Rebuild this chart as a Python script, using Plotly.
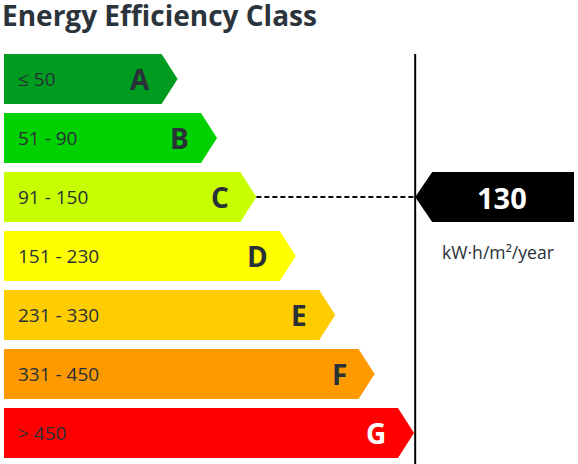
import plotly.graph_objects as go

# energy label data
classes = ["A", "B", "C", "D", "E", "F", "G"]
ranges = ["≤ 50", "51 - 90", "91 - 150", "151 - 230", "231 - 330", "331 - 450", "> 450"]
upper_limits = [50, 90, 150, 230, 330, 450]
colors = ["#009c1f", "#00d100", "#c8ff00", "#ffff00", "#ffcc00", "#ff9900", "#ff0000"]
letter_colors = ["#283038"] * 6 + ["#ffffff"]
value = 130
unit = "kW·h/m²/year"

# layout in axis units (1 unit = one class step)
W, H = 578, 464
step_px = 39.4
row_px = 59
bar_h = 50 / row_px
tip = 16 / step_px
x_range = [-4 / step_px, (W - 4) / step_px]
y_range = [(H - 79) / row_px, -79 / row_px]

text_col = "#283038"
font = "Open Sans"

value_class = sum(value > lim for lim in upper_limits)

fig = go.Figure()

for i, (c, col) in enumerate(zip(classes, colors)):
    length = 4 + i
    xs = [0, length, length + tip, length, 0, 0]
    ys = [i - bar_h / 2, i - bar_h / 2, i, i + bar_h / 2, i + bar_h / 2, i - bar_h / 2]
    fig.add_trace(go.Scatter(x=xs, y=ys, fill="toself", fillcolor=col, mode="lines",
                             line=dict(width=0, color=col), hoverinfo="skip", showlegend=False))
    fig.add_annotation(x=0.3, y=i, text=ranges[i], showarrow=False, xanchor="left",
                       font=dict(family=font, size=19, color=text_col))
    fig.add_annotation(x=length - 0.25, y=i, text="<b>%s</b>" % c, showarrow=False, xanchor="right",
                       font=dict(family=font, size=28, color=letter_colors[i]))

# vertical separator right of the longest arrow
line_x = 4 + len(classes) - 1 + tip + 0.03
fig.add_trace(go.Scatter(x=[line_x, line_x], y=[-bar_h / 2, y_range[0]], mode="lines",
                         line=dict(color="black", width=2), hoverinfo="skip", showlegend=False))

# dashed pointer from the matching class
v_len = 4 + value_class
fig.add_trace(go.Scatter(x=[v_len + tip, line_x], y=[value_class, value_class], mode="lines",
                         line=dict(color="black", width=1.8, dash="5px,3px"),
                         hoverinfo="skip", showlegend=False))

# black value marker
m_tip = 17 / step_px
m_end = x_range[1] - 4 / step_px
mx = [line_x, line_x + m_tip, m_end, m_end, line_x + m_tip, line_x]
my = [value_class, value_class - bar_h / 2, value_class - bar_h / 2,
      value_class + bar_h / 2, value_class + bar_h / 2, value_class]
fig.add_trace(go.Scatter(x=mx, y=my, fill="toself", fillcolor="black", mode="lines",
                         line=dict(width=0, color="black"), hoverinfo="skip", showlegend=False))
mid = (line_x + m_tip + m_end) / 2
fig.add_annotation(x=mid - 0.03, y=value_class, text="<b>%d</b>" % value, showarrow=False,
                   font=dict(family=font, size=29, color="white"))
fig.add_annotation(x=(line_x + m_end) / 2 + 0.08, y=value_class + 0.93, text=unit, showarrow=False,
                   font=dict(family=font, size=17.6, color=text_col))

fig.add_annotation(x=0.0, y=1.013, xref="paper", yref="paper", text="<b>Energy Efficiency Class</b>",
                   showarrow=False, xanchor="left", yanchor="top",
                   font=dict(family=font, size=28, color="#2b333b"))

fig.update_xaxes(range=x_range, visible=False, fixedrange=True)
fig.update_yaxes(range=y_range, visible=False, fixedrange=True)
fig.update_layout(width=W, height=H, margin=dict(l=0, r=0, t=0, b=0),
                  plot_bgcolor="white", paper_bgcolor="white", showlegend=False)

fig.write_html("out.html", config={"displayModeBar": False},
               post_script="document.body.style.margin='0';")
